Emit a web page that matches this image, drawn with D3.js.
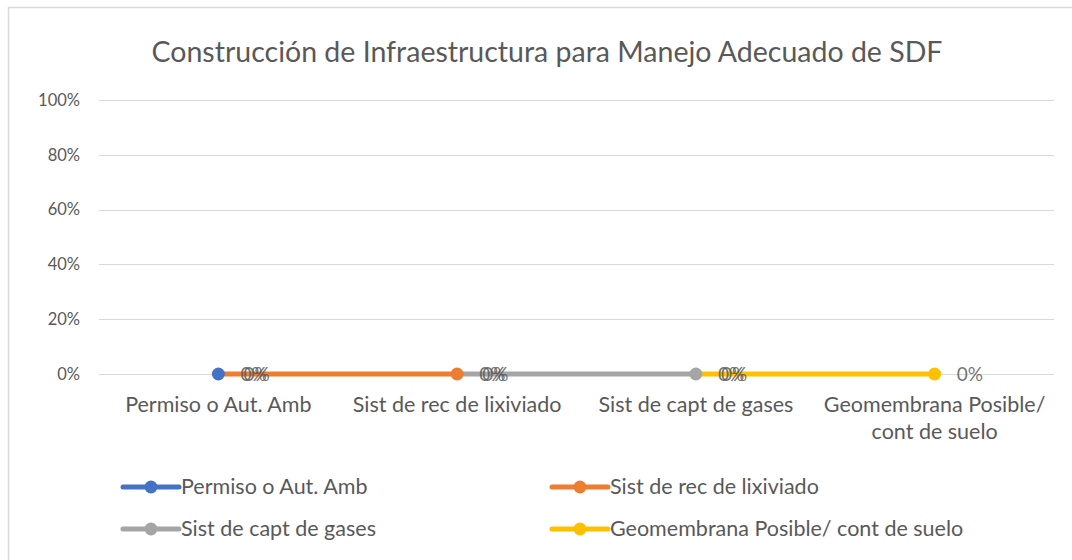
<!DOCTYPE html>
<html>
<head>
<meta charset="utf-8">
<script src="https://cdn.jsdelivr.net/npm/d3@7"></script>
<style>
  html, body { margin: 0; padding: 0; background: #fff; }
  svg { display: block; }
  text { font-family: Lato, "Open Sans", sans-serif; }
</style>
</head>
<body>
<svg id="chart" width="1072" height="560"></svg>
<script>
const title = "Construcción de Infraestructura para Manejo Adecuado de SDF";
const categories = ["Permiso o Aut. Amb", "Sist de rec de lixiviado", "Sist de capt de gases", "Geomembrana Posible/ cont de suelo"];
const seriesNames = ["Permiso o Aut. Amb", "Sist de rec de lixiviado", "Sist de capt de gases", "Geomembrana Posible/ cont de suelo"];
const seriesColors = ["#4472C4", "#ED7D31", "#A5A5A5", "#FFC000"];
// values per category (null = no data)
const permisoValues   = [0, null, null, null];
const lixiviadoValues = [0, 0, null, null];
const gasesValues     = [null, 0, 0, null];
const geomembValues   = [null, null, 0, 0];
const markerIndex = [0, 1, 2, 3];
const yTicks = [0, 0.2, 0.4, 0.6, 0.8, 1.0];

const seriesValues = [permisoValues, lixiviadoValues, gasesValues, geomembValues];

const svg = d3.select("#chart");
const W = 1072, H = 560;
const margin = { left: 99, right: 18 };

// outer border
svg.append("rect").attr("x", 8.5).attr("y", 7.5).attr("width", W + 20).attr("height", H + 20)
  .attr("fill", "#fff").attr("stroke", "#d9d9d9").attr("stroke-width", 1.5);

svg.append("text").attr("x", 547).attr("y", 62).attr("text-anchor", "middle")
  .attr("font-size", 28.5).attr("fill", "#595959").text(title);

const x = d3.scaleBand().domain(categories).range([margin.left, W - margin.right]);
const y = d3.scaleLinear().domain([0, 1]).range([374, 100]);

// gridlines
svg.append("g").selectAll("line").data(yTicks).join("line")
  .attr("x1", margin.left).attr("x2", W - margin.right)
  .attr("y1", d => Math.round(y(d)) + 0.5).attr("y2", d => Math.round(y(d)) + 0.5)
  .attr("stroke", "#d9d9d9").attr("stroke-width", 1);

// y axis labels
const yAxis = d3.axisLeft(y).tickValues(yTicks).tickFormat(d3.format(".0%")).tickSize(0).tickPadding(0);
const gy = svg.append("g").attr("transform", `translate(80,0)`).call(yAxis);
gy.select(".domain").remove();
gy.selectAll("text").attr("font-size", 16.5).attr("fill", "#595959").attr("font-family", "Lato, sans-serif");

// x axis labels
const gx = svg.append("g").attr("transform", `translate(0,374)`)
  .call(d3.axisBottom(x).tickSize(0).tickPadding(0));
gx.select(".domain").remove();
gx.selectAll("text").attr("font-size", 21.5).attr("fill", "#595959").attr("font-family", "Lato, sans-serif")
  .attr("y", 38).attr("dy", 0)
  .each(function(d) {
    const t = d3.select(this);
    if (d === "Geomembrana Posible/ cont de suelo") {
      t.text(null);
      t.append("tspan").attr("x", 0).attr("dy", 0).text("Geomembrana Posible/");
      t.append("tspan").attr("x", 0).attr("dy", 27).text("cont de suelo");
    }
  });

const cx = d => x(d) + x.bandwidth() / 2;

const line = d3.line()
  .defined(d => d.v !== null)
  .x(d => cx(d.c)).y(d => y(d.v));

// lines
seriesValues.forEach((vals, i) => {
  const pts = vals.map((v, j) => ({ c: categories[j], v }));
  svg.append("path").datum(pts).attr("d", line)
    .attr("fill", "none").attr("stroke", seriesColors[i]).attr("stroke-width", 5)
    .attr("stroke-linecap", "round");
});

// data labels
seriesValues.forEach((vals, i) => {
  vals.forEach((v, j) => {
    if (v === null) return;
    svg.append("text").attr("x", cx(categories[j]) + 22 + (i === markerIndex.indexOf(j) ? 0 : 3))
      .attr("y", y(v) + 7).attr("font-size", 19).attr("fill", "#595959").attr("fill-opacity", 0.85)
      .text(d3.format(".0%")(v));
  });
});

// markers (drawn in reverse order)
for (let i = seriesValues.length - 1; i >= 0; i--) {
  const j = markerIndex[i];
  const v = seriesValues[i][j];
  svg.append("circle").attr("cx", cx(categories[j])).attr("cy", y(v)).attr("r", 6.5)
    .attr("fill", seriesColors[i]);
}

// legend
const legendPos = [[123, 487], [552, 487], [123, 529], [552, 529]];
seriesNames.forEach((name, i) => {
  const [lx, ly] = legendPos[i];
  const g = svg.append("g").attr("transform", `translate(${lx},${ly})`);
  g.append("line").attr("x1", 0).attr("x2", 56).attr("y1", 0).attr("y2", 0)
    .attr("stroke", seriesColors[i]).attr("stroke-width", 5).attr("stroke-linecap", "round");
  g.append("circle").attr("cx", 28).attr("cy", 0).attr("r", 6.5).attr("fill", seriesColors[i]);
  g.append("text").attr("x", 58).attr("y", 7).attr("font-size", 21.5).attr("fill", "#595959").text(name);
});
</script>
</body>
</html>
